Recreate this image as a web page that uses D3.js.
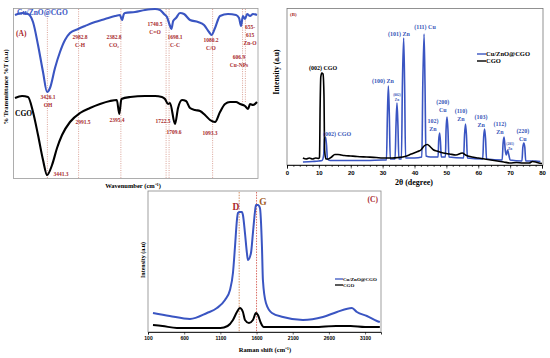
<!DOCTYPE html>
<html lang="en">
<head>
<meta charset="UTF-8">
<title>FTIR / XRD / Raman</title>
<script src="https://cdn.jsdelivr.net/npm/d3@7/dist/d3.min.js"></script>
<style>
  body { margin: 0; background: #fff; }
  svg { display: block; font-family: "Liberation Serif", "Times New Roman", serif; font-weight: bold; }
</style>
</head>
<body>
<script>
// ---------- (A) FTIR : [wavenumber cm-1, transmittance a.u.]
var ftirComposite = [[3886,163],[3786,165],[3701,164],[3630,156],[3559,133],[3488,106],[3430,86],[3389,90],[3318,110],[3247,126],[3176,138],[3105,145],[2991,149],[2892,152],[2750,156],[2608,159],[2466,162],[2395,163],[2367,158],[2340,164],[2324,165],[2182,166],[2040,168],[1898,169],[1827,168],[1770,164],[1728,161],[1690,153],[1665,149],[1640,157],[1600,160],[1543,165],[1486,164],[1401,158],[1287,156],[1202,153],[1131,146],[1095,143],[1046,150],[975,162],[862,164],[748,163],[705,160],[677,152],[650,162],[620,159],[590,164],[549,162],[507,164],[450,163]];
var ftirCgo = [[3886,80],[3786,82],[3701,81],[3630,66],[3559,43],[3488,18],[3430,3],[3360,13],[3289,30],[3218,43],[3105,56],[2963,65],[2821,70],[2679,74],[2537,77],[2440,78],[2405,64],[2375,79],[2250,81],[2040,82],[1898,82],[1800,81],[1756,79],[1713,74],[1685,75],[1614,54],[1571,70],[1514,78],[1458,77],[1401,70],[1330,68],[1259,67],[1188,63],[1117,58],[1046,56],[975,66],[904,74],[833,76],[748,76],[691,74],[620,72],[577,69],[549,74],[507,73],[450,76]];
var ftirMarks = [3426.1, 2982.8, 2382.8, 1740.5, 1698.1, 1080.2];
var ftirMarksShort = [655, 615];
// [wavenumber anchor, a.u. anchor, text lines]
var ftirLabelsTop = [
  [2963, 141, ['2982.8', 'C-H']],
  [2480, 141, ['2382.8', 'CO\u2082']],
  [1898, 154, ['1740.5', 'C=O']],
  [1614, 141, ['1698.1', 'C-C']],
  [1103, 138, ['1080.2', 'C/O']],
  [705, 121, ['606.9', 'Cu-NPs']],
  [549, 151, ['655-', '615', 'Zn-O']],
  [3417, 81, ['3426.1', 'OH']]
];
var ftirLabelsBottom = [
  [2920, 56, ['2991.5']],
  [2437, 58, ['2395.4']],
  [1784, 57, ['1722.5']],
  [1628, 46, ['1709.6']],
  [1117, 45, ['1093.3']],
  [3233, 4, ['3441.3']]
];

// ---------- (B) XRD : [2theta, intensity a.u.]
var xrdComposite = [[5,3],[8,3.5],[10,4],[11,4.5],[11.5,10],[11.8,26],[12.1,28],[12.4,20],[12.7,6],[13.5,4.5],[20,4.5],[25,4.5],[30,5],[31.2,5],[31.5,50],[31.8,79],[32.1,50],[32.4,6],[33.9,6],[34.2,40],[34.5,62],[34.8,40],[35.1,6],[35.9,6],[36.2,80],[36.6,127],[36.9,80],[37.2,7],[40,7],[42.3,8],[42.6,80],[43.0,131],[43.3,80],[43.6,9],[45,8],[47.4,8],[47.6,25],[47.9,32],[48.2,20],[48.4,8],[49.7,8],[49.9,35],[50.2,48],[50.5,35],[50.8,8],[55.4,7],[55.7,30],[56.0,41],[56.3,30],[56.6,7],[61.4,6],[61.7,28],[62.0,36],[62.3,26],[62.6,6],[67.5,5],[67.8,22],[68.1,28],[68.5,14],[68.8,10],[69.2,15],[69.6,10],[70,5],[73.7,4],[74.0,18],[74.3,22],[74.6,18],[74.9,4],[78,4],[79.5,3.5]];
var xrdCgo = [[5,7],[6,6],[7,7],[8,6],[9,7],[10,6.5],[10.2,8],[10.4,60],[10.6,88],[10.9,92],[11.3,91],[11.6,70],[11.8,15],[12.2,6],[13,6],[14,8],[15,10.5],[16,10.5],[17,10],[18,9.5],[20,9],[22,8.5],[25,8],[28,7.5],[30,7],[33,7],[35,7.5],[37,8.5],[39,11],[41,13.5],[42,15],[43,19],[44,20.5],[45,18],[46,15],[47,14],[49,12],[51,11],[53,10],[55,12],[56,10],[58,8],[60,7],[62,6],[64,5],[66,4],[68,3],[70,2],[72,2.5],[74,2],[76,2],[77,3.5],[78,3],[79,2],[80,1.5]];
var xrdTicks = [0, 10, 20, 30, 40, 50, 60, 70, 80];
// [2theta anchor, a.u. anchor, text lines]
var xrdPeakLabels = [
  [30.1, 84, ['(100) Zn']],
  [35.1, 131, ['(101) Zn']],
  [43.3, 138, ['(111) Cu']],
  [48.9, 63, ['(200)', 'Cu']],
  [45.8, 44, ['102)', 'Zn']],
  [54.6, 54, ['(110)', 'Zn']],
  [60.9, 48, ['(103)', 'Zn']],
  [66.8, 41, ['(112)', 'Zn']],
  [74.0, 34, ['(220)', 'Cu']]
];
var xrdSmallLabels = [
  [34.5, 70, ['(002)', 'Zn']],
  [70.0, 21, ['(201)', 'Zn']]
];

// ---------- (C) Raman : [shift cm-1, intensity a.u.]
var ramanComposite = [[169,19],[400,16],[680,13],[915,19],[1053,24],[1164,32],[1233,42],[1274,59],[1302,85],[1329,112],[1343,119],[1370,120],[1398,120],[1412,117],[1440,99],[1467,79],[1481,72],[1523,79],[1550,99],[1578,120],[1592,127],[1619,127],[1647,124],[1675,85],[1688,52],[1730,29],[1813,19],[1965,15],[2241,12],[2517,15],[2711,20],[2918,24],[2987,20],[3125,16],[3263,11],[3304,10]];
var ramanCgo = [[169,7],[300,6],[500,4],[800,4],[1100,4],[1200,6],[1274,12],[1329,20],[1370,24],[1412,20],[1440,12],[1495,9],[1550,12],[1592,19],[1619,17],[1660,9],[1700,5],[2000,5],[2400,5],[2700,6],[2900,6],[3100,5],[3304,5]];
var ramanTicks = [100, 600, 1100, 1600, 2100, 2600, 3100];
var ramanBands = [[1360, 'D', 125], [1600, 'G', 130]];

var seriesNames = ['Cu/ZnO@CGO', 'CGO'];

// ---------- colours
var blue = '#3a55c2';
var labelBlue = '#3756b8';
var darkRed = '#a8282c';

var svg = d3.select('body').append('svg').attr('width', 550).attr('height', 358);

function multiline(g, x, y, lines, size, color, gap, anchor) {
  var t = g.append('text').attr('x', x).attr('y', y).attr('font-size', size)
    .attr('fill', color).attr('text-anchor', anchor || 'middle');
  lines.forEach(function (s, i) {
    t.append('tspan').attr('x', x).attr('dy', i === 0 ? '0.35em' : gap).text(s);
  });
  return t;
}

function drawLine(g, data, xs, ys, color, width) {
  var line = d3.line().x(function (d) { return xs(d[0]); }).y(function (d) { return ys(d[1]); })
    .curve(d3.curveMonotoneX);
  g.append('path').datum(data).attr('d', line).attr('fill', 'none')
    .attr('stroke', color).attr('stroke-width', width).attr('stroke-linejoin', 'round');
}

// ================= panel A =================
var ax = d3.scaleLinear().domain([3900, 450]).range([14, 257]);
var ay = d3.scaleLinear().domain([0, 170]).range([178, 8]);
var gA = svg.append('g');

gA.append('rect').attr('x', 13.5).attr('y', 8.5).attr('width', 244.5).attr('height', 170)
  .attr('fill', 'none').attr('stroke', '#999').attr('stroke-width', 0.8);

gA.selectAll('.mark').data(ftirMarks).enter().append('line')
  .attr('x1', function (d) { return ax(d); }).attr('x2', function (d) { return ax(d); })
  .attr('y1', 9).attr('y2', 178)
  .attr('stroke', '#d08a7c').attr('stroke-width', 0.8).attr('stroke-dasharray', '1,1.3');
gA.selectAll('.marks').data(ftirMarksShort).enter().append('line')
  .attr('x1', function (d) { return ax(d); }).attr('x2', function (d) { return ax(d); })
  .attr('y1', 9).attr('y2', ay(75))
  .attr('stroke', '#d08a7c').attr('stroke-width', 0.8).attr('stroke-dasharray', '1,1.3');

drawLine(gA, ftirComposite, ax, ay, blue, 2.1);
drawLine(gA, ftirCgo, ax, ay, '#000', 2.1);

ftirLabelsTop.concat(ftirLabelsBottom).forEach(function (l) {
  multiline(gA, ax(l[0]), ay(l[1]), l[2], 5.5, darkRed, 8);
});

gA.append('text').attr('x', 17).attr('y', 14.5).attr('font-size', 7.5).attr('fill', blue).text(seriesNames[0]);
gA.append('text').attr('x', 15).attr('y', 116).attr('font-size', 7.5).attr('fill', '#000').text(seriesNames[1]);
gA.append('text').attr('x', 16).attr('y', 36).attr('font-size', 7.5).attr('fill', darkRed).text('(A)');

gA.append('text').attr('x', 133).attr('y', 188).attr('font-size', 6.5).attr('text-anchor', 'middle')
  .text('Wavenumber (cm\u207B\u00B9)');
gA.append('text').attr('transform', 'translate(8,87) rotate(-90)').attr('font-size', 6.5)
  .attr('text-anchor', 'middle').text('% Transmittance %T (a.u)');

// ================= panel B =================
var bx = d3.scaleLinear().domain([0, 80]).range([287, 542]);
var by = d3.scaleLinear().domain([0, 157]).range([165, 8]);
var gB = svg.append('g');

gB.append('rect').attr('x', 287).attr('y', 8.5).attr('width', 256).attr('height', 156.5)
  .attr('fill', 'none').attr('stroke', '#777').attr('stroke-width', 0.8);

drawLine(gB, xrdComposite, bx, by, blue, 1.6);
drawLine(gB, xrdCgo, bx, by, '#000', 1.6);

var minorAxis = d3.axisBottom(bx).ticks(40).tickSize(2).tickFormat('');
gB.append('g').attr('transform', 'translate(0,165)').call(minorAxis)
  .call(function (g) { g.select('.domain').remove(); });
var xAxisB = d3.axisBottom(bx).tickValues(xrdTicks).tickSize(3.5).tickPadding(2).tickFormat(d3.format('d'));
gB.append('g').attr('transform', 'translate(0,165)').call(xAxisB)
  .call(function (g) {
    g.select('.domain').attr('stroke', '#000').attr('stroke-width', 0.8);
    g.selectAll('text').attr('font-size', 6).attr('font-family', null).attr('fill', '#000');
  });
gB.selectAll('.tick line').attr('stroke', '#000').attr('stroke-width', 0.6);

gB.append('text').attr('x', 414).attr('y', 185).attr('font-size', 8).attr('text-anchor', 'middle')
  .text('2\u03B8 (degree)');
gB.append('text').attr('transform', 'translate(279,72) rotate(-90)').attr('font-size', 7.5)
  .attr('text-anchor', 'middle').text('Intensity (a.u)');
gB.append('text').attr('x', 290).attr('y', 16).attr('font-size', 5).attr('fill', darkRed).text('(B)');

multiline(gB, bx(11.3), by(97), ['(002) CGO'], 6, '#000', 8);
multiline(gB, bx(11.3), by(31), ['(002) CGO'], 6, labelBlue, 8, 'start');
xrdPeakLabels.forEach(function (l) {
  multiline(gB, bx(l[0]), by(l[1]), l[2], 6, labelBlue, 8);
});
xrdSmallLabels.forEach(function (l) {
  multiline(gB, bx(l[0]), by(l[1]), l[2], 3.5, labelBlue, 5);
});

// legend B
[blue, '#000'].forEach(function (c, i) {
  gB.append('line').attr('x1', 477).attr('x2', 486).attr('y1', 54 + i * 7).attr('y2', 54 + i * 7)
    .attr('stroke', c).attr('stroke-width', 1.4);
  gB.append('text').attr('x', 486).attr('y', 56.3 + i * 7).attr('font-size', 6.5).text(seriesNames[i]);
});

// ================= panel C =================
var cx = d3.scaleLinear().domain([100, 3320]).range([148, 381]);
var cy = d3.scaleLinear().domain([0, 141]).range([332, 191]);
var gC = svg.append('g');

gC.append('rect').attr('x', 148).attr('y', 191).attr('width', 233).attr('height', 141)
  .attr('fill', 'none').attr('stroke', '#888').attr('stroke-width', 0.8);

ramanBands.forEach(function (b) {
  gC.append('line').attr('x1', cx(b[0])).attr('x2', cx(b[0])).attr('y1', 192).attr('y2', 332)
    .attr('stroke', b[1] === 'D' ? '#c9733c' : '#d0463c').attr('stroke-width', 0.8)
    .attr('stroke-dasharray', '1.5,1.2');
});

drawLine(gC, ramanComposite, cx, cy, blue, 2);
drawLine(gC, ramanCgo, cx, cy, '#000', 2);

var xAxisC = d3.axisBottom(cx).tickValues(ramanTicks).tickSize(2.5).tickPadding(2).tickFormat(d3.format('d'));
gC.append('g').attr('transform', 'translate(0,332)').call(xAxisC)
  .call(function (g) {
    g.select('.domain').attr('stroke', '#000').attr('stroke-width', 0.8);
    g.selectAll('text').attr('font-size', 5).attr('font-family', null).attr('fill', '#000');
    g.selectAll('.tick line').attr('stroke', '#000').attr('stroke-width', 0.6);
  });

gC.append('text').attr('x', 265).attr('y', 352).attr('font-size', 6.5).attr('text-anchor', 'middle')
  .text('Raman shift (cm\u207B\u00B9)');
gC.append('text').attr('transform', 'translate(145,260) rotate(-90)').attr('font-size', 6)
  .attr('text-anchor', 'middle').text('Intensity (a.u)');
gC.append('text').attr('x', 378).attr('y', 201.5).attr('font-size', 7.5).attr('fill', darkRed)
  .attr('text-anchor', 'end').text('(C)');

gC.append('text').attr('x', cx(1315)).attr('y', cy(125)).attr('dy', '0.35em').attr('font-size', 9.5)
  .attr('fill', darkRed).attr('text-anchor', 'middle').text('D');
gC.append('text').attr('x', cx(1688)).attr('y', cy(130)).attr('dy', '0.35em').attr('font-size', 9.5)
  .attr('fill', '#a05a20').attr('text-anchor', 'middle').text('G');

// legend C
[blue, '#000'].forEach(function (c, i) {
  gC.append('line').attr('x1', 335).attr('x2', 343).attr('y1', 279 + i * 6).attr('y2', 279 + i * 6)
    .attr('stroke', c).attr('stroke-width', 1.3);
  gC.append('text').attr('x', 343).attr('y', 280.8 + i * 6).attr('font-size', 5).text(seriesNames[i]);
});
</script>
</body>
</html>
